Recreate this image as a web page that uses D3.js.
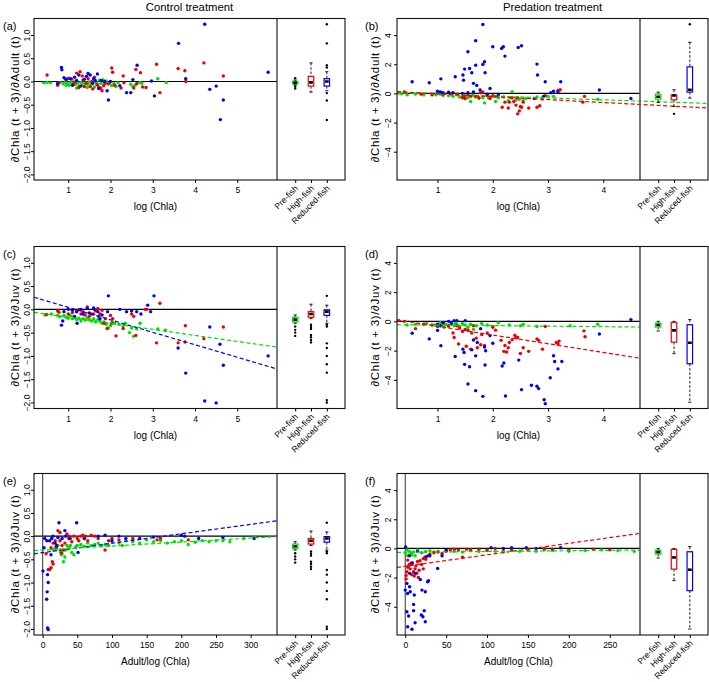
<!DOCTYPE html>
<html><head><meta charset="utf-8">
<script src="https://cdn.jsdelivr.net/npm/d3@7"></script>
<style>
body{margin:0;background:#fff}
svg{display:block}
text{font-family:"Liberation Sans",Arial,sans-serif;fill:#000}
</style>
</head><body>
<svg id="chart" width="709" height="682"></svg>
<script>
// ---------------- DATA ----------------
const categories = ["Pre-fish", "High-fish", "Reduced-fish"];
const seriesColors = ["#00dd00", "#ee0000", "#0000ee"];
const columnTitles = ["Control treatment", "Predation treatment"];
const panelTags = ["(a)", "(b)", "(c)", "(d)", "(e)", "(f)"];
const xTicksChla5 = [1, 2, 3, 4, 5];
const xTicksChla4 = [1, 2, 3, 4];
const xTicksRatioE = [0, 50, 100, 150, 200, 250, 300];
const xTicksRatioF = [0, 50, 100, 150, 200, 250];
const yTicksControl = [-2.0, -1.5, -1.0, -0.5, 0.0, 0.5, 1.0];
const yTicksPredation = [-4, -2, 0, 2, 4];

// (a) control, dChla/dAdult vs log(Chla)
const aPre = [[0.42,-0.03],[0.5,-0.02],[0.58,-0.03],[0.75,-0.04],[0.8,-0.02],[0.88,-0.05],[0.93,-0.01],[0.98,-0.04],[1.02,-0.08],[1.06,-0.02],[1.1,-0.05],[1.14,-0.01],[1.18,-0.06],[1.22,-0.03],[1.26,-0.09],[1.3,-0.02],[1.34,-0.05],[1.38,-0.1],[1.42,-0.03],[1.46,-0.06],[1.5,-0.01],[1.54,-0.07],[1.58,-0.03],[1.62,-0.12],[1.66,-0.02],[1.7,-0.06],[1.74,0.03],[1.78,-0.04],[1.82,0.04],[1.86,-0.02],[1.9,0.01],[1.98,-0.05],[2.03,-0.09],[2.08,-0.04],[2.13,-0.11],[2.18,-0.03],[2.48,-0.06],[2.53,-0.11],[2.58,-0.08],[2.63,-0.04],[2.7,-0.02],[2.74,-0.04],[3.12,0.06],[3.32,-0.02],[1.2,-0.14],[1.45,-0.13],[1.75,-0.15],[0.95,-0.08]];
const aHigh = [[0.5,0.14],[0.75,-0.08],[0.78,-0.03],[0.95,0.03],[1.0,0.07],[1.08,0.05],[1.12,-0.07],[1.2,0.18],[1.25,-0.13],[1.28,0.21],[1.33,0.12],[1.38,-0.11],[1.42,-0.04],[1.47,0.06],[1.52,-0.11],[1.58,-0.16],[1.62,0.09],[1.68,-0.07],[1.72,-0.12],[1.77,-0.14],[1.8,-0.2],[1.84,-0.09],[1.88,-0.04],[1.95,-0.05],[2.03,0.29],[2.05,0.2],[2.1,-0.08],[2.25,-0.14],[2.3,0.12],[2.32,-0.03],[2.55,-0.14],[2.6,0.26],[2.62,-0.05],[2.71,0.19],[2.76,-0.12],[2.84,-0.13],[3.09,0.37],[3.17,-0.24],[3.6,0.28],[3.76,0.23],[3.78,0.0],[4.21,0.4],[4.67,0.12],[1.15,-0.02],[1.35,0.03],[1.56,0.0]];
const aReduced = [[0.75,-0.05],[0.84,0.3],[0.85,0.25],[0.9,0.08],[0.95,0.05],[1.05,0.06],[1.1,-0.08],[1.2,0.02],[1.25,0.14],[1.3,-0.1],[1.38,0.05],[1.43,0.11],[1.47,0.17],[1.52,0.14],[1.58,-0.04],[1.64,0.02],[1.69,0.16],[1.72,-0.15],[1.78,0.02],[1.86,0.0],[1.92,-0.2],[1.95,-0.4],[2.0,0.0],[2.22,-0.09],[2.38,-0.24],[2.48,-0.24],[2.53,0.04],[2.63,0.35],[2.97,0.01],[3.04,-0.31],[3.61,0.82],[3.78,0.06],[4.23,1.23],[4.35,-0.17],[4.5,-0.1],[4.6,-0.82],[4.67,-0.4],[5.73,0.2],[1.15,0.09],[1.6,0.06]];

// (b) predation, dChla/dAdult vs log(Chla)
const bPre = [[0.3,0.03],[0.35,-0.02],[0.45,-0.1],[0.6,-0.05],[0.75,-0.1],[0.9,-0.05],[0.97,-0.1],[1.05,-0.05],[1.1,-0.15],[1.2,-0.15],[1.28,-0.2],[1.35,-0.1],[1.4,-0.25],[1.45,-0.2],[1.5,-0.15],[1.55,-0.3],[1.6,-0.55],[1.68,-0.25],[1.75,-0.35],[1.82,-0.3],[1.85,-0.65],[1.92,-0.3],[2.0,-0.2],[2.05,-0.55],[2.1,-0.3],[2.2,-0.25],[2.28,-0.5],[2.32,-0.3],[2.35,0.12],[2.42,-0.45],[2.48,-0.4],[2.55,-0.5],[2.6,-0.35],[2.8,-0.25],[2.9,-0.4],[3.0,-0.2],[3.1,-0.2],[3.9,-0.4],[1.25,-0.05],[1.65,-0.1]];
const bHigh = [[0.4,0.1],[0.7,-0.05],[0.9,-0.1],[1.1,-0.05],[1.25,0.0],[1.35,-0.05],[1.45,-0.3],[1.48,-0.25],[1.5,-0.35],[1.55,-0.1],[1.6,-0.2],[1.7,-0.2],[1.75,-0.3],[1.78,0.05],[1.82,0.1],[1.9,-0.15],[1.95,-0.35],[2.0,-0.15],[2.05,-0.2],[2.17,-0.95],[2.22,-0.6],[2.28,-1.0],[2.3,-0.6],[2.35,-0.3],[2.38,-0.55],[2.42,-0.8],[2.45,-1.4],[2.45,-0.3],[2.48,-1.2],[2.5,-0.9],[2.52,-0.95],[2.55,-0.6],[2.65,-1.0],[2.8,-0.95],[2.85,-0.85],[2.95,-0.15],[3.18,0.2],[3.22,0.25],[3.63,-0.6],[3.66,-0.2]];
const bReduced = [[0.54,0.8],[0.85,0.73],[1.0,0.15],[1.05,0.1],[1.06,1.0],[1.1,0.05],[1.2,0.08],[1.28,0.05],[1.32,1.14],[1.45,0.0],[1.46,1.26],[1.47,0.91],[1.49,1.67],[1.55,2.86],[1.55,0.05],[1.58,1.71],[1.62,1.42],[1.65,0.69],[1.65,0.1],[1.69,3.61],[1.69,1.94],[1.71,0.55],[1.77,0.23],[1.82,4.73],[1.82,1.99],[1.85,2.17],[1.86,1.42],[1.9,-0.05],[1.95,0.34],[2.0,3.2],[2.1,-0.1],[2.16,3.09],[2.19,3.2],[2.22,2.56],[2.46,3.15],[2.52,3.27],[2.75,-0.35],[2.8,2.01],[2.81,1.26],[2.92,-0.2],[2.95,0.8],[3.05,0.05],[3.1,0.15],[3.18,0.1],[3.23,0.8],[3.93,0.23],[4.5,-0.34]];

// (c) control, dChla/dJuv vs log(Chla)
const cPre = [[0.45,-0.12],[0.6,-0.1],[0.75,-0.13],[0.8,-0.16],[0.9,-0.13],[0.95,-0.17],[1.0,-0.19],[1.03,-0.12],[1.07,-0.14],[1.1,-0.2],[1.15,-0.17],[1.2,-0.22],[1.25,-0.19],[1.3,-0.25],[1.35,-0.2],[1.4,-0.23],[1.45,-0.18],[1.5,-0.22],[1.55,-0.25],[1.6,-0.2],[1.65,-0.27],[1.7,-0.22],[1.75,-0.25],[1.8,-0.3],[1.85,-0.27],[1.9,-0.32],[1.95,-0.4],[2.0,-0.35],[2.05,-0.27],[2.1,-0.3],[2.2,-0.32],[2.3,-0.35],[2.35,-0.3],[2.45,-0.5],[2.5,-0.4],[2.55,-0.58],[2.62,-0.42],[2.7,-0.3],[3.12,-0.42],[3.3,-0.45]];
const cHigh = [[0.49,-0.11],[0.75,-0.03],[0.78,-0.06],[1.0,-0.1],[1.1,-0.07],[1.2,-0.05],[1.25,0.0],[1.3,-0.1],[1.35,-0.05],[1.4,-0.12],[1.45,0.05],[1.5,-0.15],[1.55,-0.1],[1.6,-0.1],[1.65,-0.03],[1.7,0.02],[1.72,-0.15],[1.75,-0.1],[1.8,-0.02],[1.85,-0.3],[1.88,-0.2],[1.92,-0.41],[2.0,-0.13],[2.03,-0.3],[2.05,-0.2],[2.13,-0.57],[2.3,-0.41],[2.5,-0.1],[2.55,-0.15],[2.6,-0.56],[2.82,0.0],[2.86,0.0],[3.09,-0.72],[3.17,0.13],[3.6,-0.72],[3.76,-0.7],[3.77,-0.35],[4.21,-0.63],[4.67,-0.38]];
const cReduced = [[0.84,-0.34],[0.87,-0.25],[0.9,-0.05],[1.0,0.0],[1.1,-0.02],[1.15,-0.15],[1.2,-0.05],[1.21,-0.3],[1.3,0.0],[1.35,-0.1],[1.45,0.02],[1.5,-0.08],[1.6,0.03],[1.62,0.0],[1.7,-0.05],[1.75,-0.2],[1.8,-0.12],[1.93,-0.05],[1.95,0.29],[2.22,0.0],[2.38,-0.05],[2.5,-0.03],[2.62,-0.05],[2.72,-0.1],[2.88,0.09],[2.95,-0.05],[3.03,0.29],[3.6,-0.83],[3.78,-1.37],[4.23,-1.97],[4.35,-0.38],[4.5,-2.01],[4.59,-0.75],[4.67,-1.2],[5.73,-1.0]];

// (d) predation, dChla/dJuv vs log(Chla)
const dPre = [[0.45,-0.25],[0.6,-0.2],[0.8,-0.15],[0.95,-0.25],[1.0,-0.3],[1.05,-0.1],[1.1,-0.25],[1.15,-0.2],[1.2,-0.35],[1.25,-0.15],[1.3,-0.3],[1.35,-0.2],[1.4,-0.35],[1.45,-0.15],[1.5,-0.25],[1.55,-0.4],[1.6,-0.2],[1.65,-0.55],[1.7,-0.3],[1.8,-0.15],[1.9,-0.25],[2.0,-0.35],[2.1,-0.1],[2.3,-0.25],[2.5,-0.3],[2.55,-0.2],[2.8,-0.35],[3.4,-0.3],[3.9,-0.2],[1.12,-0.4],[1.32,-0.12]];
const dHigh = [[0.3,0.05],[0.4,0.0],[0.6,-0.5],[0.75,-0.2],[0.9,-0.25],[1.0,-0.35],[1.1,-0.1],[1.2,-0.3],[1.28,-0.8],[1.3,-1.1],[1.35,-0.3],[1.38,-1.55],[1.45,-0.7],[1.5,-0.55],[1.52,-1.7],[1.55,-0.6],[1.6,-1.9],[1.62,-0.8],[1.65,-0.3],[1.7,-1.15],[1.72,-1.8],[1.78,-1.6],[1.8,-0.9],[1.85,-1.65],[1.9,-0.8],[2.0,-0.4],[2.05,-0.6],[2.15,-1.3],[2.2,-2.05],[2.22,-1.65],[2.25,-2.1],[2.28,-1.8],[2.3,-1.45],[2.35,-1.25],[2.4,-0.95],[2.42,-1.1],[2.45,-1.1],[2.5,-2.2],[2.55,-1.8],[2.65,-2.05],[2.8,-1.2],[2.83,-1.3],[2.9,-1.9],[2.95,-0.35],[3.15,-1.45],[3.18,-1.55],[3.2,-1.35],[3.65,-0.65],[3.67,-1.05],[1.4,-0.45]];
const dReduced = [[0.54,-0.81],[0.85,-1.2],[1.0,-0.62],[1.0,-0.2],[1.05,-0.3],[1.06,-1.66],[1.1,-0.1],[1.2,0.0],[1.25,-0.15],[1.3,0.05],[1.32,-2.4],[1.35,0.05],[1.46,-1.9],[1.48,-2.13],[1.49,-2.94],[1.5,0.05],[1.55,-4.28],[1.58,-3.1],[1.62,-1.95],[1.65,-1.27],[1.69,-2.36],[1.69,-4.74],[1.72,-1.45],[1.78,-0.5],[1.82,-5.13],[1.85,-1.75],[1.86,-2.98],[1.87,-2.01],[1.95,-0.97],[2.0,-1.5],[2.17,-3.05],[2.2,-2.85],[2.23,-5.1],[2.47,-2.65],[2.52,-4.67],[2.7,-4.37],[2.8,-4.44],[2.83,-4.6],[2.93,-5.36],[2.95,-5.64],[3.04,-3.86],[3.1,-2.35],[3.12,-2.75],[3.18,-3.25],[3.25,-2.75],[3.93,-0.86],[4.5,0.12]];

// (e) control, dChla/dJuv vs Adult/log(Chla)
const ePre = [[15,-0.3],[18,-0.25],[20,-0.22],[22,-0.2],[25,-0.3],[26,-0.35],[27,-0.4],[28,-0.38],[30,-0.55],[32,-0.45],[33,-0.3],[35,-0.2],[38,-0.25],[40,-0.2],[42,-0.35],[45,-0.4],[48,-0.22],[50,-0.2],[55,-0.18],[60,-0.22],[65,-0.15],[70,-0.2],[75,-0.18],[80,-0.15],[85,-0.2],[90,-0.18],[95,-0.2],[100,-0.12],[110,-0.15],[115,-0.2],[120,-0.1],[130,-0.12],[140,-0.15],[150,-0.08],[160,-0.12],[170,-0.1],[180,-0.15],[190,-0.12],[200,-0.1],[210,-0.18],[220,-0.13],[230,-0.1],[240,-0.12],[250,-0.1],[260,-0.1],[270,-0.12],[290,-0.05],[305,-0.02]];
const eHigh = [[5,-0.38],[8,-0.72],[10,-0.72],[12,-0.68],[12,-0.25],[14,-0.55],[15,-0.6],[15,-0.15],[18,-0.1],[20,-0.25],[22,0.12],[25,-0.1],[27,-0.36],[28,-0.2],[30,-0.3],[32,-0.15],[35,0.05],[38,0.0],[40,-0.05],[45,0.0],[50,-0.05],[52,-0.1],[55,0.0],[58,0.02],[60,-0.05],[62,0.0],[65,-0.1],[70,0.02],[75,0.0],[80,-0.05],[90,-0.3],[95,-0.1],[100,-0.05],[110,-0.08],[130,-0.05],[165,-0.08],[170,-0.05],[210,-0.08],[25,0.08],[42,-0.12]];
const eReduced = [[0.5,-0.75],[2,-0.25],[3,-0.05],[5.8,-1.36],[6,-0.1],[6.5,-1.2],[7,-0.83],[7,-1.98],[8,-2.01],[8,-1.0],[10,-0.1],[12,-0.4],[13,-0.05],[15,0.0],[18,-0.15],[20,-0.2],[22,-0.03],[23.5,0.29],[28,-0.05],[32,0.12],[33,0.0],[38,-0.05],[49,0.29],[51,-0.35],[60,-0.05],[80,0.0],[90,0.02],[100,-0.1],[110,0.0],[120,-0.05],[140,-0.05],[160,-0.02],[200,0.02],[205,0.0],[225,-0.05],[260,-0.03],[305,-0.05]];

// (f) predation, dChla/dJuv vs Adult/log(Chla)
const fPre = [[0,-0.3],[2,-0.1],[3,-0.5],[5,-0.2],[7,-0.35],[8,-0.45],[10,-0.25],[12,-0.5],[15,-0.1],[20,-0.3],[25,-0.2],[30,-0.15],[35,-0.25],[40,-0.2],[50,-0.15],[60,-0.2],[70,-0.25],[80,-0.1],[90,-0.2],[100,-0.15],[110,-0.2],[120,-0.25],[130,-0.15],[140,-0.2],[150,-0.15],[160,-0.2],[170,-0.1],[180,-0.15],[200,-0.2],[220,-0.15],[240,-0.1],[260,-0.15],[280,-0.2]];
const fHigh = [[1,-2.1],[1,-1.85],[2,-1.6],[3,-1.3],[3,-0.8],[4,-1.2],[5,-1.1],[6,-1.4],[7,-1.05],[8,-1.8],[9,-1.0],[10,-1.6],[11,-1.9],[12,-1.4],[13,-1.2],[14,-1.7],[15,-0.9],[16,-2.0],[17,-1.5],[18,-0.85],[20,-1.1],[22,-0.7],[22,-1.4],[24,-0.6],[25,-0.75],[28,-0.5],[30,-0.4],[35,-0.3],[40,-0.25],[45,-0.35],[50,-0.2],[55,-0.1],[60,-0.05],[65,-0.1],[70,-0.6],[75,-0.05],[80,-0.1],[90,-0.05],[100,-0.1],[110,0.0],[120,-0.2],[130,-0.1],[150,-0.05],[170,0.0],[180,-0.05],[200,-0.1],[230,-0.05],[250,-0.1]];
const fReduced = [[0.5,0.1],[0,-2.86],[2,-2.4],[2,-4.34],[2.9,-5.37],[2.9,-3.09],[4.1,-4.64],[5.3,-2.63],[5.3,-1.71],[6.1,-2.97],[5,-0.5],[8.2,-5.55],[8,-1.0],[10.2,-4.27],[10.2,-3.84],[11,-3.2],[12.2,-1.71],[12,-5.1],[15,-0.2],[18.4,-2.13],[19.6,-4.57],[20.4,-2.86],[21.6,-4.69],[23.2,-4.27],[24.5,-5.03],[24.5,-2.97],[25.7,-0.57],[27.3,-2.29],[28.5,-2.22],[30,-0.5],[39.6,-1.37],[45,-0.5],[50,-0.1],[105,0.05],[120,0.0],[130,0.05],[148,0.05],[160,0.0],[190,0.05]];

// fitted lines: [intercept, slope, series index]
const linesA = [];
const linesB = [[0.085,-0.131,0],[0.173,-0.199,1]];
const linesC = [[0.311,-0.268,2],[-0.040,-0.130,0]];
const linesD = [[-0.220,-0.036,0],[0.258,-0.596,1]];
const linesE = [[-0.355,0.00203,2],[-0.299,0.000856,0]];
const linesF = [[-1.222,0.00785,1],[-0.265,0.00054,0]];

// boxplot stats per category: [lowWhisker, q1, median, q3, highWhisker]
const boxAdultControl = [[-0.08,-0.05,-0.03,0.0,0.03],[-0.23,-0.1,-0.02,0.11,0.4],[-0.2,-0.1,0.0,0.06,0.21]];
const outAdultControl = [[0.07,-0.11,-0.15],[],[1.23,0.82,0.35,0.3,-0.25,-0.41,-0.83]];
const boxAdultPredation = [[-0.62,-0.39,-0.23,-0.05,0.09],[-0.9,-0.44,-0.14,-0.1,0.25],[-0.32,0.09,0.25,1.82,3.51]];
const outAdultPredation = [[],[-1.4],[4.75]];
const boxJuvControl = [[-0.3,-0.27,-0.22,-0.17,-0.12],[-0.2,-0.17,-0.1,-0.05,0.11],[-0.3,-0.13,-0.05,-0.01,0.09]];
const outJuvControl = [[-0.37,-0.44,-0.5,-0.57],[-0.33,-0.38,-0.42,-0.55,-0.6,-0.66,-0.71],[0.29,-0.33,-0.37,-0.73,-0.83,-1.0,-1.18,-1.36,-1.95,-2.0]];
const boxJuvPredation = [[-0.66,-0.39,-0.25,-0.12,0.0],[-2.21,-1.42,-0.62,-0.07,0.0],[-5.53,-2.9,-1.46,-0.23,0.12]];
const outJuvPredation = [[],[],[]];

// ---------------- DRAWING ----------------
const svg = d3.select("#chart");
const cols = [{left:34, sep:277, right:345}, {left:397, sep:640, right:708}];
const rows = [{top:18.5, bottom:180}, {top:246.5, bottom:408.5}, {top:473.5, bottom:635}];
const yLabAdult = "\u2202Chla (t + 3)/\u2202Adult (t)";
const yLabJuv = "\u2202Chla (t + 3)/\u2202Juv (t)";

const panels = [
  {r:0,c:0,tag:panelTags[0],xd:[0.19,5.94],yd:[-2.12,1.355],xt:xTicksChla5,yt:yTicksControl,fmt:d3.format(".1f"),xl:"log (Chla)",yl:yLabAdult,series:[aPre,aHigh,aReduced],lines:linesA,box:boxAdultControl,out:outAdultControl,v0:false,edge:false},
  {r:0,c:1,tag:panelTags[1],xd:[0.266,4.665],yd:[-5.94,5.14],xt:xTicksChla4,yt:yTicksPredation,fmt:d3.format("d"),xl:"log (Chla)",yl:yLabAdult,series:[bPre,bHigh,bReduced],lines:linesB,box:boxAdultPredation,out:outAdultPredation,v0:false,edge:true},
  {r:1,c:0,tag:panelTags[2],xd:[0.19,5.94],yd:[-2.13,1.35],xt:xTicksChla5,yt:yTicksControl,fmt:d3.format(".1f"),xl:"log (Chla)",yl:yLabJuv,series:[cPre,cHigh,cReduced],lines:linesC,box:boxJuvControl,out:outJuvControl,v0:false,edge:false},
  {r:1,c:1,tag:panelTags[3],xd:[0.266,4.665],yd:[-5.96,5.12],xt:xTicksChla4,yt:yTicksPredation,fmt:d3.format("d"),xl:"log (Chla)",yl:yLabJuv,series:[dPre,dHigh,dReduced],lines:linesD,box:boxJuvPredation,out:outJuvPredation,v0:false,edge:false},
  {r:2,c:0,tag:panelTags[4],xd:[-12.5,338],yd:[-2.13,1.35],xt:xTicksRatioE,yt:yTicksControl,fmt:d3.format(".1f"),xl:"Adult/log (Chla)",yl:yLabJuv,series:[ePre,eHigh,eReduced],lines:linesE,box:boxJuvControl,out:outJuvControl,v0:true,edge:false},
  {r:2,c:1,tag:panelTags[5],xd:[-10.1,287],yd:[-5.94,5.14],xt:xTicksRatioF,yt:yTicksPredation,fmt:d3.format("d"),xl:"Adult/log (Chla)",yl:yLabJuv,series:[fPre,fHigh,fReduced],lines:linesF,box:boxJuvPredation,out:outJuvPredation,v0:true,edge:false}
];

const minus = s => s.replace("-", "\u2212");

panels.forEach((p, pi) => {
  const {left, sep, right} = cols[p.c];
  const {top, bottom} = rows[p.r];
  const x = d3.scaleLinear().domain(p.xd).range([left, sep]);
  const y = d3.scaleLinear().domain(p.yd).range([bottom, top]);
  const xb = d3.scalePoint().domain(categories).range([sep, right]).padding(1.15);
  const g = svg.append("g");

  const clipId = "clip" + pi;
  svg.append("clipPath").attr("id", clipId).append("rect")
    .attr("x", left).attr("y", top).attr("width", right - left).attr("height", bottom - top);
  const inner = g.append("g").attr("clip-path", `url(#${clipId})`);

  // reference lines
  inner.append("line").attr("x1", left).attr("x2", sep).attr("y1", y(0)).attr("y2", y(0))
    .attr("stroke", "#000").attr("stroke-width", 1.1);
  if (p.v0) {
    inner.append("line").attr("x1", x(0)).attr("x2", x(0)).attr("y1", top).attr("y2", bottom)
      .attr("stroke", "#444").attr("stroke-width", 1.1);
  }

  // points
  p.series.forEach((pts, si) => {
    inner.append("g").selectAll("circle").data(pts).join("circle")
      .attr("cx", d => x(d[0])).attr("cy", d => y(d[1])).attr("r", 1.7)
      .attr("fill", seriesColors[si]);
  });

  // fitted lines
  p.lines.forEach(([a, b, si]) => {
    const x0 = p.xd[0];
    const x1 = p.edge ? x.invert(right) : p.xd[1];
    inner.append("line")
      .attr("x1", x(x0)).attr("y1", y(a + b * x0))
      .attr("x2", x(x1)).attr("y2", y(a + b * x1))
      .attr("stroke", seriesColors[si]).attr("stroke-width", 1.2)
      .attr("stroke-dasharray", "4,2.5");
  });

  // boxplots
  const bw = 5.5;
  p.box.forEach((st, i) => {
    const cx = xb(categories[i]);
    const [lo, q1, med, q3, hi] = st;
    const bg = inner.append("g");
    bg.append("line").attr("x1", cx).attr("x2", cx).attr("y1", y(hi)).attr("y2", y(q3))
      .attr("stroke", "#000").attr("stroke-width", 0.9).attr("stroke-dasharray", "2.5,1.8");
    bg.append("line").attr("x1", cx).attr("x2", cx).attr("y1", y(q1)).attr("y2", y(lo))
      .attr("stroke", "#000").attr("stroke-width", 0.9).attr("stroke-dasharray", "2.5,1.8");
    [hi, lo].forEach(v => bg.append("line").attr("x1", cx - 1.6).attr("x2", cx + 1.6)
      .attr("y1", y(v)).attr("y2", y(v)).attr("stroke", "#000").attr("stroke-width", 0.9));
    bg.append("rect").attr("x", cx - bw / 2).attr("y", y(q3)).attr("width", bw)
      .attr("height", Math.max(0.5, y(q1) - y(q3))).attr("fill", "#fff")
      .attr("stroke", seriesColors[i]).attr("stroke-width", 1.2);
    bg.append("line").attr("x1", cx - 1.9).attr("x2", cx + 1.9).attr("y1", y(med)).attr("y2", y(med))
      .attr("stroke", "#000").attr("stroke-width", 2.6);
    bg.selectAll("circle").data(p.out[i]).join("circle")
      .attr("cx", cx).attr("cy", d => y(d)).attr("r", 1.2).attr("fill", "#000");
  });

  // separator and frame
  g.append("line").attr("x1", sep).attr("x2", sep).attr("y1", top).attr("y2", bottom)
    .attr("stroke", p.c === 0 ? "#111" : "#555").attr("stroke-width", p.c === 0 ? 1.1 : 1.6);
  g.append("rect").attr("x", left).attr("y", top).attr("width", right - left).attr("height", bottom - top)
    .attr("fill", "none").attr("stroke", "#111").attr("stroke-width", 1.1);

  // y axis
  const yAx = g.append("g").attr("transform", `translate(${left},0)`)
    .call(d3.axisLeft(y).tickValues(p.yt).tickSize(3).tickFormat(d => minus(p.fmt(d))));
  yAx.select(".domain").remove();
  yAx.selectAll("text").attr("x", null).attr("dy", null)
    .attr("text-anchor", "middle").attr("font-size", 8.5)
    .attr("transform", `translate(${p.c === 0 ? -4 : -6},0) rotate(-90)`);

  // x axis (scatter part)
  const xAx = g.append("g").attr("transform", `translate(0,${bottom})`)
    .call(d3.axisBottom(x).tickValues(p.xt).tickSize(3).tickPadding(4).tickFormat(d3.format("d")));
  xAx.select(".domain").remove();
  xAx.selectAll("text").attr("font-size", 8.5);

  // x axis (boxplot categories)
  const bAx = g.append("g").attr("transform", `translate(0,${bottom})`)
    .call(d3.axisBottom(xb).tickSize(3));
  bAx.select(".domain").remove();
  bAx.selectAll("text").attr("y", null).attr("dy", null).attr("font-size", 8.5)
    .attr("text-anchor", "end").attr("transform", "translate(3,9) rotate(-45)");

  // axis titles
  g.append("text").attr("x", (left + sep) / 2).attr("y", bottom + 30)
    .attr("text-anchor", "middle").attr("font-size", 10).text(p.xl);
  g.append("text").attr("text-anchor", "middle").attr("font-size", 11.5)
    .attr("transform", `translate(${left - (p.c === 0 ? 15 : 18)},${(top + bottom) / 2}) rotate(-90)`)
    .attr("textLength", p.yl === yLabAdult ? 126 : 118).attr("lengthAdjust", "spacing")
    .text(p.yl);

  // panel tag
  g.append("text").attr("x", p.c === 0 ? 3 : 365).attr("y", top + 11)
    .attr("font-size", 11).text(p.tag);

  if (p.r === 0) {
    svg.append("text").attr("x", (left + right) / 2).attr("y", 10.5)
      .attr("text-anchor", "middle").attr("font-size", 11.3).text(columnTitles[p.c]);
  }
});
</script>
</body></html>
